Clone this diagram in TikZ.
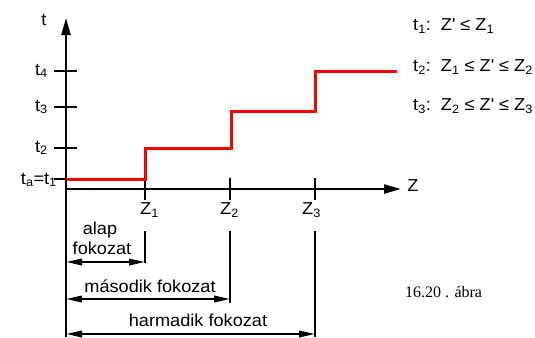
\documentclass[tikz,border=0pt]{standalone}
\usepackage{fontspec}
\setmainfont{Liberation Sans}[FakeStretch=1.05]
\newfontfamily\capfont{Liberation Serif}
\usetikzlibrary{arrows.meta}
\newcommand\sbs[1]{\textsubscript{#1}}
\newcommand\zp{Z\textquotesingle}
\begin{document}
\begin{tikzpicture}[x=1bp,y=-1bp,
  lab/.style={font=\fontsize{17.3bp}{20bp}\selectfont, inner sep=0pt},
  axisline/.style={line width=2.2bp, -{Triangle[length=17bp,width=9bp]}},
  tickline/.style={line width=1.3bp},
  extline/.style={line width=1.3bp},
  dimline/.style={line width=2bp, {Triangle[length=16bp,width=6.5bp]}-{Triangle[length=16bp,width=6.5bp]}},
  stepline/.style={line width=3bp, red, line join=miter}]
\useasboundingbox (0,0) rectangle (535,337);
% axes
\coordinate (ybot) at (66,337);
\coordinate (ytop) at (66,18);
\coordinate (O) at (66,189);
\coordinate (xend) at (401,189);
\draw[axisline] (ybot) -- (ytop);
\draw[axisline] (O) -- (xend);
% y ticks
\foreach \n/\y in {1/179,2/148,3/107,4/71}{
  \coordinate (yl\n) at (54,\y);
  \coordinate (yr\n) at (77,\y);
  \draw[tickline] (yl\n) -- (yr\n);
}
% x ticks and extension lines
\foreach \n/\x/\e in {1/145/263,2/230/303,3/315/337}{
  \coordinate (xt\n) at (\x,178);
  \coordinate (xb\n) at (\x,200);
  \draw[tickline] (xt\n) -- (xb\n);
  \coordinate (et\n) at (\x,231);
  \coordinate (eb\n) at (\x,\e);
  \draw[extline] (et\n) -- (eb\n);
}
% red step line
\coordinate (s0) at (66,179);
\coordinate (s1) at (145,179);
\coordinate (s2) at (145,148);
\coordinate (s3) at (231,148);
\coordinate (s4) at (231,111);
\coordinate (s5) at (315,111);
\coordinate (s6) at (315,71);
\coordinate (s7) at (397,71);
\draw[stepline] (s0) -- (s1) -- (s2) -- (s3) -- (s4) -- (s5) -- (s6) -- (s7);
% axis labels
\node[lab] (lt) at (44,20) {t};
\node[lab] (lz) at (413,186) {Z};
\node[lab, anchor=east] (lt4) at (48,71) {t\sbs{4}};
\node[lab, anchor=east] (lt3) at (48,107) {t\sbs{3}};
\node[lab, anchor=east] (lt2) at (48,148) {t\sbs{2}};
\node[lab, anchor=east] (lt1) at (57,180) {t\sbs{a}=t\sbs{1}};
\node[lab, anchor=base west] (lz1) at (140,214.5) {Z\sbs{1}};
\node[lab, anchor=base west] (lz2) at (220,214.5) {Z\sbs{2}};
\node[lab, anchor=base west] (lz3) at (302,214.5) {Z\sbs{3}};
% conditions
\node[lab, anchor=west] (c1) at (413,26) {t\sbs{1}:\ \ \zp{} ≤ Z\sbs{1}};
\node[lab, anchor=west] (c2) at (413,67) {t\sbs{2}:\ \ Z\sbs{1} ≤ \zp{} ≤ Z\sbs{2}};
\node[lab, anchor=west] (c3) at (413,106) {t\sbs{3}:\ \ Z\sbs{2} ≤ \zp{} ≤ Z\sbs{3}};
% dimension lines
\coordinate (d1a) at (66,262);
\coordinate (d1b) at (145,262);
\coordinate (d2a) at (66,299);
\coordinate (d2b) at (230,299);
\coordinate (d3a) at (66,334);
\coordinate (d3b) at (315,334);
\draw[dimline] (d1a) -- (d1b);
\draw[dimline] (d2a) -- (d2b);
\draw[dimline] (d3a) -- (d3b);
\node[lab, anchor=base] (alap) at (100,234) {alap};
\node[lab, anchor=base] (fok1) at (102,254) {fokozat};
\node[lab, anchor=base] (fok2) at (150,292) {második fokozat};
\node[lab, anchor=base] (fok3) at (198,326) {harmadik fokozat};
% caption
\node[inner sep=0pt, anchor=base west, font=\capfont\fontsize{16bp}{18bp}\selectfont] (cap) at (405,297) {16.20 . ábra};
\end{tikzpicture}
\end{document}
